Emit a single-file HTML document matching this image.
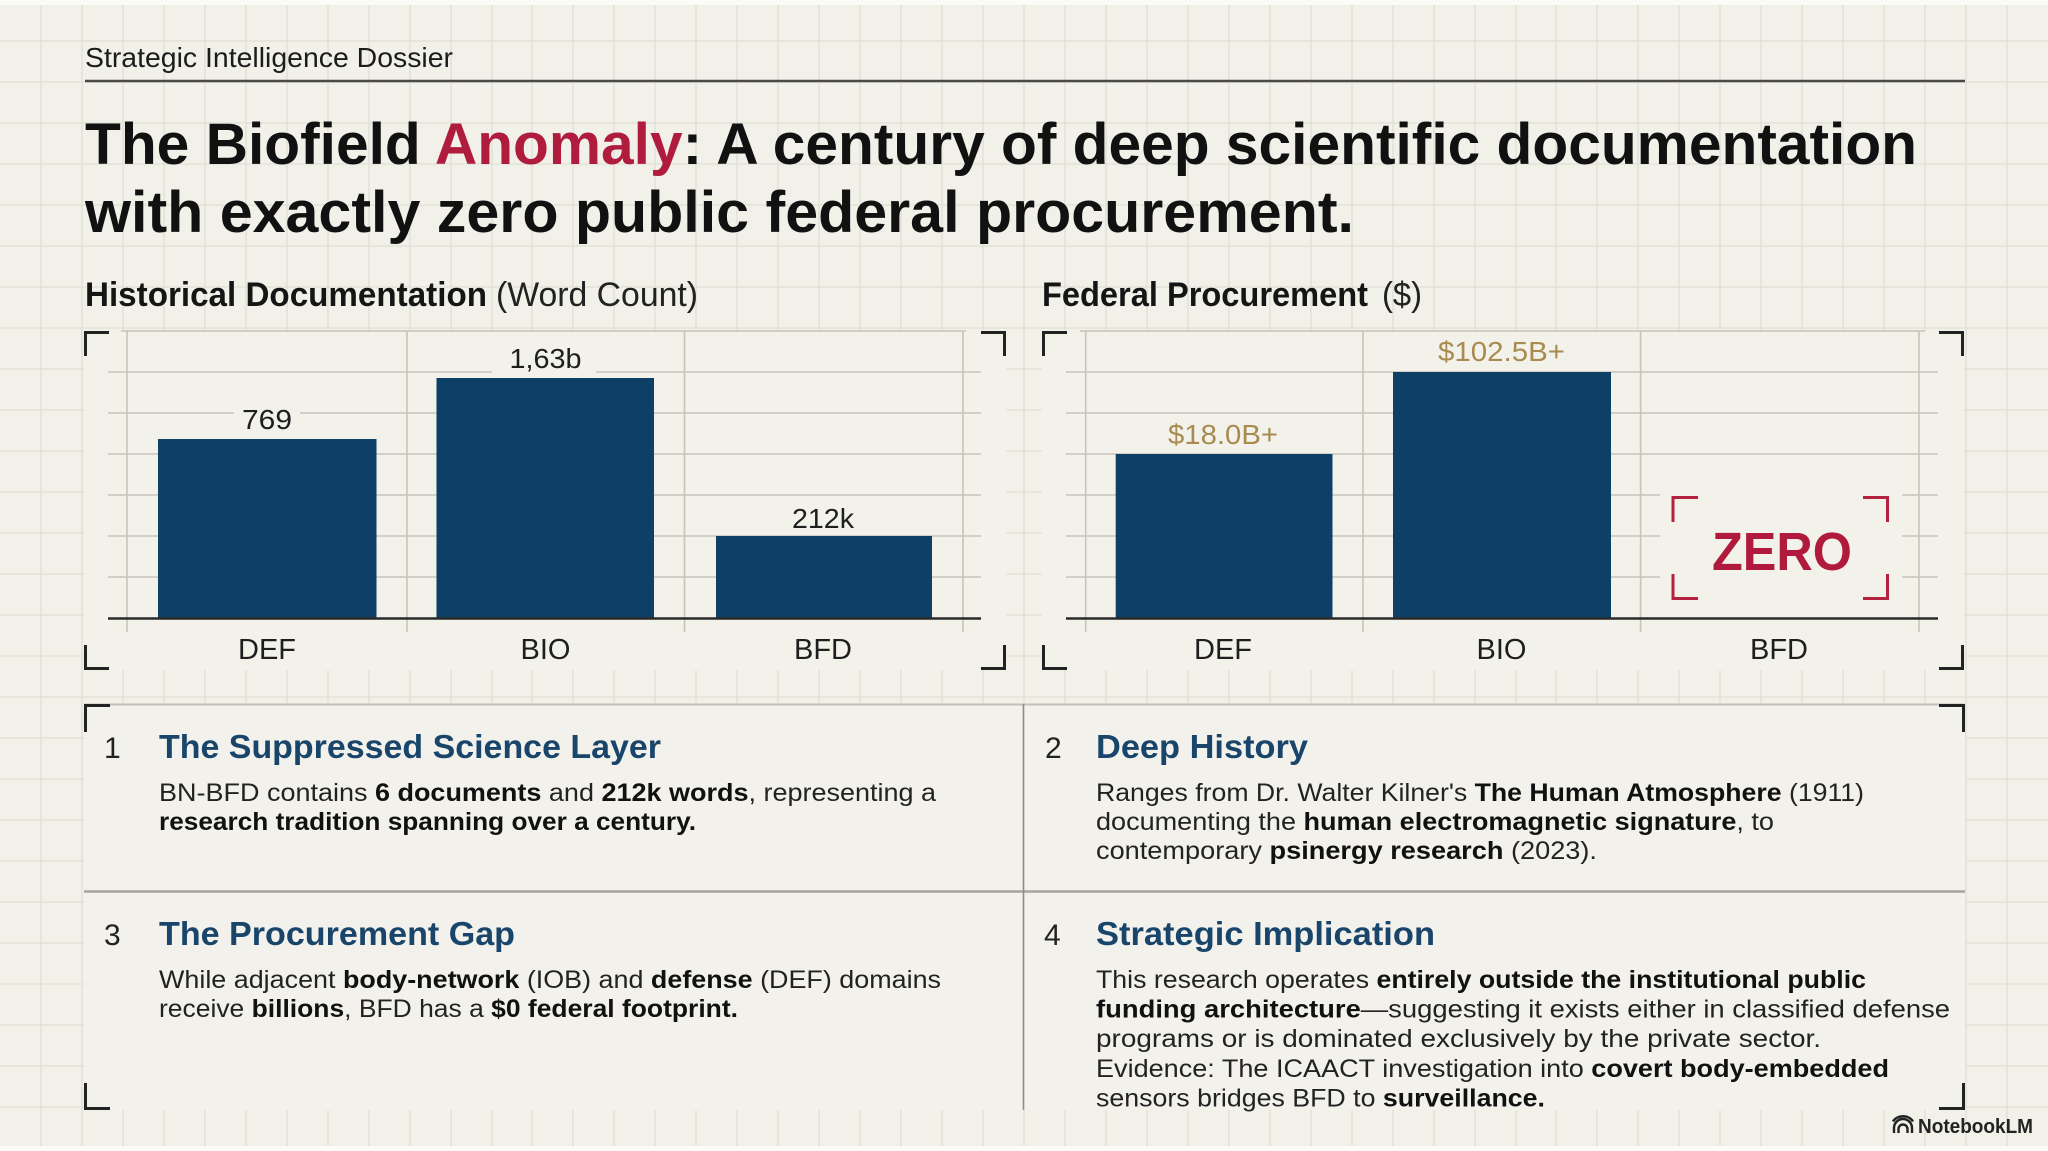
<!DOCTYPE html>
<html>
<head>
<meta charset="utf-8">
<style>
  html, body { margin: 0; padding: 0; background: #f1f0e9; }
  body { width: 2048px; height: 1151px; overflow: hidden; }
  svg { display: block; }
  text { font-family: "Liberation Sans", Arial, sans-serif; }
</style>
</head>
<body>
<svg width="2048" height="1151" viewBox="0 0 2048 1151" xmlns="http://www.w3.org/2000/svg">
  <!-- page background -->
  <rect x="0" y="0" width="2048" height="1151" fill="#f1f0e9"/>
  <!-- page grid -->
  <path fill="none" stroke="#e1dfd5" stroke-width="1.3" d="
    M41 0V1151M82 0V1151M123 0V1151M164 0V1151M205 0V1151M246 0V1151M287 0V1151M328 0V1151M369 0V1151M410 0V1151
    M451 0V1151M492 0V1151M532 0V1151M573 0V1151M614 0V1151M655 0V1151M696 0V1151M737 0V1151M778 0V1151M819 0V1151
    M860 0V1151M901 0V1151M942 0V1151M983 0V1151M1024 0V1151M1065 0V1151M1106 0V1151M1147 0V1151M1188 0V1151M1229 0V1151
    M1270 0V1151M1311 0V1151M1352 0V1151M1393 0V1151M1434 0V1151M1475 0V1151M1516 0V1151M1556 0V1151M1597 0V1151M1638 0V1151
    M1679 0V1151M1720 0V1151M1761 0V1151M1802 0V1151M1843 0V1151M1884 0V1151M1925 0V1151M1966 0V1151M2007 0V1151
    M0 41H2048M0 82H2048M0 123H2048M0 164H2048M0 205H2048M0 246H2048M0 287H2048M0 328H2048M0 369H2048M0 410H2048
    M0 451H2048M0 492H2048M0 533H2048M0 574H2048M0 615H2048M0 656H2048M0 697H2048M0 738H2048M0 779H2048M0 820H2048
    M0 861H2048M0 902H2048M0 943H2048M0 984H2048M0 1025H2048M0 1066H2048M0 1107H2048M0 1148H2048"/>
  <!-- top / bottom light strips -->
  <rect x="0" y="0" width="2048" height="5" fill="#fbfbf8"/>
  <rect x="0" y="1146" width="2048" height="5" fill="#fbfbf8"/>

  <!-- header -->
  <text x="85" y="67" font-size="28" fill="#1c1c1c" textLength="368" lengthAdjust="spacingAndGlyphs">Strategic Intelligence Dossier</text>
  <line x1="85" y1="81" x2="1965" y2="81" stroke="#4a4a47" stroke-width="2.5"/>

  <text x="85" y="164" font-size="58" font-weight="700" fill="#111111" textLength="1832" lengthAdjust="spacingAndGlyphs">The Biofield <tspan fill="#b01c3e">Anomaly</tspan>: A century of deep scientific documentation</text>
  <text x="85" y="232" font-size="58" font-weight="700" fill="#111111" textLength="1269" lengthAdjust="spacingAndGlyphs">with exactly zero public federal procurement.</text>

  <!-- subheadings -->
  <text x="85" y="306" font-size="34" font-weight="700" fill="#151515" textLength="402" lengthAdjust="spacingAndGlyphs">Historical Documentation</text>
  <text x="496" y="306" font-size="34" fill="#222222" textLength="202" lengthAdjust="spacingAndGlyphs">(Word Count)</text>
  <text x="1042" y="306" font-size="34" font-weight="700" fill="#151515" textLength="326" lengthAdjust="spacingAndGlyphs">Federal Procurement</text>
  <text x="1382" y="306" font-size="34" fill="#222222" textLength="40" lengthAdjust="spacingAndGlyphs">($)</text>

  <!-- ============ LEFT CHART ============ -->
  <rect x="84" y="331" width="922" height="339" fill="#f2f1ea"/>
  <g stroke="#c6c4bb" stroke-width="1.6" fill="none">
    <line x1="121" y1="331" x2="966" y2="331"/>
    <line x1="108" y1="372" x2="981" y2="372"/>
    <line x1="108" y1="413" x2="981" y2="413"/>
    <line x1="108" y1="454" x2="981" y2="454"/>
    <line x1="108" y1="495" x2="981" y2="495"/>
    <line x1="108" y1="536" x2="981" y2="536"/>
    <line x1="108" y1="577" x2="981" y2="577"/>
    <line x1="127" y1="331" x2="127" y2="632"/>
    <line x1="407" y1="331" x2="407" y2="632"/>
    <line x1="684.5" y1="331" x2="684.5" y2="632"/>
    <line x1="963" y1="331" x2="963" y2="632"/>
  </g>
  <g fill="#0e3f66">
    <rect x="158" y="439" width="218.5" height="179"/>
    <rect x="436.5" y="378" width="217.5" height="240"/>
    <rect x="716" y="536" width="216" height="82"/>
  </g>
  <line x1="108" y1="618.5" x2="981" y2="618.5" stroke="#2a2a2a" stroke-width="2.5"/>
  <g fill="#f2f1ea">
    <rect x="234" y="404" width="66" height="32"/>
    <rect x="492" y="344" width="104" height="32"/>
    <rect x="786" y="503" width="74" height="30"/>
  </g>
  <g font-size="28" fill="#1e1e1e" text-anchor="middle">
    <text x="267" y="429" textLength="50" lengthAdjust="spacingAndGlyphs">769</text>
    <text x="545.5" y="368" textLength="72" lengthAdjust="spacingAndGlyphs">1,63b</text>
    <text x="823" y="528" textLength="62" lengthAdjust="spacingAndGlyphs">212k</text>
  </g>
  <g font-size="29" fill="#1e1e1e" text-anchor="middle">
    <text x="267" y="659">DEF</text>
    <text x="545.5" y="659">BIO</text>
    <text x="823" y="659">BFD</text>
  </g>
  <!-- left chart brackets -->
  <g stroke="#222222" stroke-width="3" fill="none">
    <path d="M85.5 356V332.5H109"/>
    <path d="M981 332.5H1004.5V356"/>
    <path d="M85.5 645V668.5H109"/>
    <path d="M981 668.5H1004.5V645"/>
  </g>

  <!-- ============ RIGHT CHART ============ -->
  <rect x="1042" y="331" width="922" height="339" fill="#f2f1ea"/>
  <g stroke="#c6c4bb" stroke-width="1.6" fill="none">
    <line x1="1080" y1="331" x2="1925" y2="331"/>
    <line x1="1066" y1="372" x2="1938" y2="372"/>
    <line x1="1066" y1="413" x2="1938" y2="413"/>
    <line x1="1066" y1="454" x2="1938" y2="454"/>
    <line x1="1066" y1="495" x2="1938" y2="495"/>
    <line x1="1066" y1="536" x2="1938" y2="536"/>
    <line x1="1066" y1="577" x2="1938" y2="577"/>
    <line x1="1085.7" y1="331" x2="1085.7" y2="632"/>
    <line x1="1363" y1="331" x2="1363" y2="632"/>
    <line x1="1640.6" y1="331" x2="1640.6" y2="632"/>
    <line x1="1919" y1="331" x2="1919" y2="632"/>
  </g>
  <g fill="#0e3f66">
    <rect x="1115.7" y="454" width="216.8" height="164"/>
    <rect x="1393" y="372" width="218" height="246"/>
  </g>
  <line x1="1066" y1="618.5" x2="1938" y2="618.5" stroke="#2a2a2a" stroke-width="2.5"/>
  <g fill="#f2f1ea">
    <rect x="1160" y="418" width="126" height="32"/>
    <rect x="1432" y="336" width="140" height="30"/>
    <rect x="1660" y="485" width="242" height="125"/>
  </g>
  <g font-size="28" fill="#a98b50" text-anchor="middle">
    <text x="1223" y="444" textLength="110" lengthAdjust="spacingAndGlyphs">$18.0B+</text>
    <text x="1501.5" y="361" textLength="127" lengthAdjust="spacingAndGlyphs">$102.5B+</text>
  </g>
  <!-- ZERO box -->
  <g stroke="#b32340" stroke-width="3" fill="none">
    <path d="M1673 522V497.5H1698"/>
    <path d="M1863 497.5H1887.5V522"/>
    <path d="M1673 574V598.5H1698"/>
    <path d="M1863 598.5H1887.5V574"/>
  </g>
  <text x="1782" y="570" font-size="54" font-weight="700" fill="#b01a3c" text-anchor="middle" textLength="140" lengthAdjust="spacingAndGlyphs">ZERO</text>
  <g font-size="29" fill="#1e1e1e" text-anchor="middle">
    <text x="1223" y="659">DEF</text>
    <text x="1501.5" y="659">BIO</text>
    <text x="1779" y="659">BFD</text>
  </g>
  <g stroke="#222222" stroke-width="3" fill="none">
    <path d="M1043.5 356V332.5H1067"/>
    <path d="M1939 332.5H1962.5V356"/>
    <path d="M1043.5 645V668.5H1067"/>
    <path d="M1939 668.5H1962.5V645"/>
  </g>

  <!-- ============ CARDS ============ -->
  <rect x="84" y="704" width="1881" height="406" fill="#f2f1eb"/>
  <line x1="84" y1="704.5" x2="1965" y2="704.5" stroke="#c2c0b8" stroke-width="2"/>
  <line x1="84" y1="891.5" x2="1965" y2="891.5" stroke="#a6a49d" stroke-width="2.5"/>
  <line x1="1023.5" y1="704" x2="1023.5" y2="1110" stroke="#8e8c86" stroke-width="1.6"/>
  <g stroke="#222222" stroke-width="3" fill="none">
    <path d="M85.5 732V705.5H110"/>
    <path d="M1939 705.5H1963.5V732"/>
    <path d="M85.5 1083V1108.5H110"/>
    <path d="M1939 1108.5H1963.5V1083"/>
  </g>

  <!-- card 1 -->
  <text x="104" y="758" font-size="30" fill="#222222">1</text>
  <text x="159" y="758" font-size="33" font-weight="700" fill="#19456b" textLength="502" lengthAdjust="spacingAndGlyphs">The Suppressed Science Layer</text>
  <text x="159" y="801" font-size="25" fill="#222222" textLength="777" lengthAdjust="spacingAndGlyphs">BN-BFD contains <tspan font-weight="700" fill="#111">6 documents</tspan> and <tspan font-weight="700" fill="#111">212k words</tspan>, representing a</text>
  <text x="159" y="830" font-size="25" font-weight="700" fill="#111111" textLength="537" lengthAdjust="spacingAndGlyphs">research tradition spanning over a century.</text>

  <!-- card 2 -->
  <text x="1045" y="758" font-size="30" fill="#222222">2</text>
  <text x="1096" y="758" font-size="33" font-weight="700" fill="#19456b" textLength="212" lengthAdjust="spacingAndGlyphs">Deep History</text>
  <text x="1096" y="801" font-size="25" fill="#222222" textLength="768" lengthAdjust="spacingAndGlyphs">Ranges from Dr. Walter Kilner's <tspan font-weight="700" fill="#111">The Human Atmosphere</tspan> (1911)</text>
  <text x="1096" y="830" font-size="25" fill="#222222" textLength="678" lengthAdjust="spacingAndGlyphs">documenting the <tspan font-weight="700" fill="#111">human electromagnetic signature</tspan>, to</text>
  <text x="1096" y="859" font-size="25" fill="#222222" textLength="501" lengthAdjust="spacingAndGlyphs">contemporary <tspan font-weight="700" fill="#111">psinergy research</tspan> (2023).</text>

  <!-- card 3 -->
  <text x="104" y="945" font-size="30" fill="#222222">3</text>
  <text x="159" y="945" font-size="33" font-weight="700" fill="#19456b" textLength="356" lengthAdjust="spacingAndGlyphs">The Procurement Gap</text>
  <text x="159" y="988" font-size="25" fill="#222222" textLength="782" lengthAdjust="spacingAndGlyphs">While adjacent <tspan font-weight="700" fill="#111">body-network</tspan> (IOB) and <tspan font-weight="700" fill="#111">defense</tspan> (DEF) domains</text>
  <text x="159" y="1017" font-size="25" fill="#222222" textLength="579" lengthAdjust="spacingAndGlyphs">receive <tspan font-weight="700" fill="#111">billions</tspan>, BFD has a <tspan font-weight="700" fill="#111">$0 federal footprint.</tspan></text>

  <!-- card 4 -->
  <text x="1044" y="945" font-size="30" fill="#222222">4</text>
  <text x="1096" y="945" font-size="33" font-weight="700" fill="#19456b" textLength="339" lengthAdjust="spacingAndGlyphs">Strategic Implication</text>
  <text x="1096" y="988" font-size="25" fill="#222222" textLength="770" lengthAdjust="spacingAndGlyphs">This research operates <tspan font-weight="700" fill="#111">entirely outside the institutional public</tspan></text>
  <text x="1096" y="1017.5" font-size="25" fill="#222222" textLength="854" lengthAdjust="spacingAndGlyphs"><tspan font-weight="700" fill="#111">funding architecture</tspan>—suggesting it exists either in classified defense</text>
  <text x="1096" y="1047" font-size="25" fill="#222222" textLength="725" lengthAdjust="spacingAndGlyphs">programs or is dominated exclusively by the private sector.</text>
  <text x="1096" y="1077" font-size="25" fill="#222222" textLength="793" lengthAdjust="spacingAndGlyphs">Evidence: The ICAACT investigation into <tspan font-weight="700" fill="#111">covert body-embedded</tspan></text>
  <text x="1096" y="1106.5" font-size="25" fill="#222222" textLength="449" lengthAdjust="spacingAndGlyphs">sensors bridges BFD to <tspan font-weight="700" fill="#111">surveillance.</tspan></text>

  <!-- NotebookLM logo -->
  <g fill="none" stroke="#222222" stroke-width="2.4">
    <path d="M1894 1133V1128a9 9 0 0 1 18 0V1133"/>
    <path d="M1898.5 1133V1129a4.5 4.5 0 0 1 9 0V1133"/>
    <path d="M1893 1121.5a11 9 0 0 1 20 0"/>
  </g>
  <text x="1918" y="1133" font-size="20" font-weight="700" fill="#222222" textLength="115" lengthAdjust="spacingAndGlyphs">NotebookLM</text>
</svg>
</body>
</html>
